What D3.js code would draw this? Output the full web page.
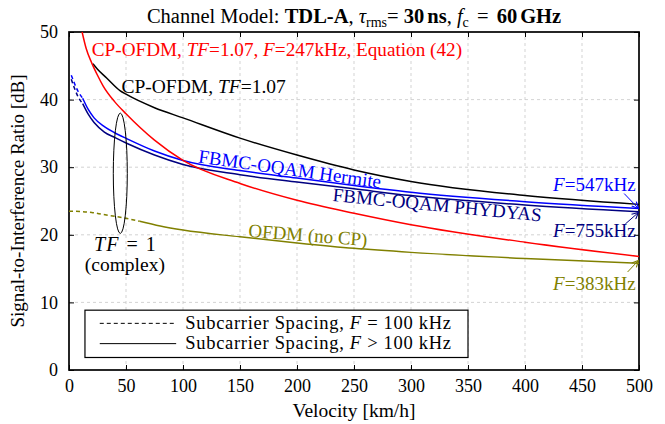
<!DOCTYPE html>
<html><head><meta charset="utf-8">
<script src="https://cdn.jsdelivr.net/npm/d3@7"></script>
<style>
body{margin:0;background:#fff}
svg{display:block}
svg text{font-family:'Liberation Serif','DejaVu Serif','Times New Roman',serif !important;}
</style>
</head><body>
<svg id="c" width="665" height="424" font-family="Liberation Serif, DejaVu Serif, serif"></svg>
<script>
// ---------- data ----------
const xTicks = [0,50,100,150,200,250,300,350,400,450,500];
const yTicks = [0,10,20,30,40,50];

// CP-OFDM, TF=1.07, F=247kHz, Equation (42)  (red)
const redV = [11.5,15,20,25,30,40,50,75,100,150,200,250,300,400,500];
const redS = [50,47.6,45.4,43.6,42.0,39.7,37.9,34.0,31.0,27.6,25.1,23.2,21.5,18.9,16.8];
// CP-OFDM, TF=1.07 (black)
const blkV = [21,25,33,45,50,75,100,150,200,250,300,400,500];
const blkS = [45.3,44.5,43.2,41.3,40.8,38.8,37.3,34.3,31.8,29.6,27.9,25.8,24.5];
// FBMC-OQAM Hermite (blue): dashed F=100kHz, solid F>100kHz
const herDashV = [2,5,8,12];
const herDashS = [43.6,42.3,41.2,40.2];
const herV = [12,17,22,31,40,51,75,100,150,200,250,300,400,500];
const herS = [40.2,38.5,37.3,36.0,35.1,34.2,32.4,31.0,29.5,28.4,27.3,26.3,24.9,23.9];
// FBMC-OQAM PHYDYAS (navy)
const phyDashV = [2,5,8,12];
const phyDashS = [43.0,41.6,40.4,39.4];
const phyV = [12,17,22,31,40,51,75,100,150,200,250,300,400,500];
const phyS = [39.4,37.8,36.6,35.2,34.4,33.5,31.8,30.4,28.9,27.8,26.8,25.8,24.4,23.4];
// OFDM (no CP) (olive)
const ofdmDashV = [0,10,20,30,45,62];
const ofdmDashS = [23.5,23.45,23.3,23.0,22.6,22.0];
const ofdmV = [62,80,100,150,200,250,300,400,500];
const ofdmS = [22.0,21.3,20.7,19.7,18.8,18.0,17.4,16.5,15.8];

const RED="#ff0000", BLK="#000000", BLU="#0000ff", NAV="#000080", OLV="#808000";
const FONT="Liberation Serif, DejaVu Serif, serif";

// ---------- layout ----------
const W=665,H=424, m={l:69,r:26,t:32,b:54};
const svg=d3.select("#c");
const x=d3.scaleLinear().domain([0,500]).range([m.l,W-m.r]);
const y=d3.scaleLinear().domain([0,50]).range([H-m.b,m.t]);

// grid
const g=svg.append("g");
g.selectAll(".gx").data(xTicks.slice(1,-1)).enter().append("line")
 .attr("x1",d=>x(d)).attr("x2",d=>x(d)).attr("y1",y(0)).attr("y2",y(50))
 .attr("stroke","#c8c8c8").attr("stroke-width",0.8).attr("stroke-dasharray","3,3");
g.selectAll(".gy").data(yTicks.slice(1,-1)).enter().append("line")
 .attr("y1",d=>y(d)).attr("y2",d=>y(d)).attr("x1",x(0)).attr("x2",x(500))
 .attr("stroke","#c8c8c8").attr("stroke-width",0.8).attr("stroke-dasharray","3,3");

// axes
const fs=18;
const ax=svg.append("g").attr("transform",`translate(0,${y(0)})`)
 .call(d3.axisBottom(x).tickValues(xTicks).tickSize(-5).tickPadding(9).tickFormat(d3.format("d")));
const ay=svg.append("g").attr("transform",`translate(${x(0)},0)`)
 .call(d3.axisLeft(y).tickValues(yTicks).tickSize(-5).tickPadding(11).tickFormat(d3.format("d")));
const at=svg.append("g").attr("transform",`translate(0,${y(50)})`)
 .call(d3.axisTop(x).tickValues(xTicks).tickSize(-5).tickFormat(""));
const ar=svg.append("g").attr("transform",`translate(${x(500)},0)`)
 .call(d3.axisRight(y).tickValues(yTicks).tickSize(-5).tickFormat(""));
[ax,ay,at,ar].forEach(a=>{
  a.attr("font-family",FONT).attr("font-size",fs);
  a.select(".domain").remove();
  a.selectAll("line").attr("stroke","#000").attr("stroke-width",1);
  a.selectAll("text").attr("font-family",FONT).attr("font-size",fs).attr("fill","#000");
});
// box
svg.append("rect").attr("x",x(0)).attr("y",y(50)).attr("width",x(500)-x(0)).attr("height",y(0)-y(50))
 .attr("fill","none").attr("stroke","#000").attr("stroke-width",1.7);

// clip
svg.append("clipPath").attr("id","clip").append("rect")
 .attr("x",x(0)).attr("y",y(50)).attr("width",x(500)-x(0)).attr("height",y(0)-y(50));
const pg=svg.append("g").attr("clip-path","url(#clip)");
const line=d3.line().x(d=>x(d[0])).y(d=>y(d[1])).curve(d3.curveMonotoneX);
function draw(vs,ss,col,dash){
  pg.append("path").datum(vs.map((v,i)=>[v,ss[i]])).attr("d",line)
   .attr("fill","none").attr("stroke",col).attr("stroke-width",1.5)
   .attr("stroke-dasharray",dash?"4,3":null);
}
draw(ofdmDashV,ofdmDashS,OLV,true);
draw(ofdmV,ofdmS,OLV,false);
draw(blkV,blkS,BLK,false);
draw(herDashV,herDashS,BLU,true);
draw(phyDashV,phyDashS,NAV,true);
draw(phyV,phyS,NAV,false);
draw(herV,herS,BLU,false);
draw(redV,redS,RED,false);

// rich text helper
function rich(parent,segs,attrs){
  const t=parent.append("text").attr("font-family",FONT);
  Object.entries(attrs).forEach(([k,v])=>t.attr(k,v));
  segs.forEach(s=>{
    const ts=t.append("tspan").text(s.t);
    if(s.i) ts.attr("font-style","italic");
    if(s.b) ts.attr("font-weight","bold");
    if(s.sub){ts.attr("font-size",s.sub).attr("dy",s.dy||4);}
    if(s.up){ts.attr("dy",-s.up);}
    if(s.dx) ts.attr("dx",s.dx);
  });
  return t;
}
function plain(parent,txt,attrs){
  const t=parent.append("text").attr("font-family",FONT).text(txt);
  Object.entries(attrs).forEach(([k,v])=>t.attr(k,v));
  return t;
}

// title
rich(svg,[{t:"Channel Model: "},{t:"TDL-A",b:1},{t:", "},{t:"τ",i:1},{t:"rms",sub:14,dy:4},{t:"= ",up:4},{t:"30",b:1},{t:"ns",b:1,dx:3},{t:",  "},{t:"f",i:1},{t:"c",sub:14,dy:4},{t:" = ",up:4,dx:3},{t:"60",b:1,dx:3},{t:"GHz",b:1,dx:3}],
 {x:(x(0)+x(500))/2,y:y(50)-9,"text-anchor":"middle","font-size":20.5,fill:"#000"});

// axis labels
plain(svg,"Velocity [km/h]",{x:(x(0)+x(500))/2,y:H-7,"text-anchor":"middle","font-size":19.5});
plain(svg,"Signal-to-Interference Ratio [dB]",{transform:`translate(24,${(y(0)+y(50))/2}) rotate(-90)`,"text-anchor":"middle","font-size":19});

// curve labels
rich(svg,[{t:"CP-OFDM, "},{t:"TF",i:1},{t:"=1.07, "},{t:"F",i:1},{t:"=247kHz, Equation (42)"}],
 {x:x(20),y:y(46.5),"font-size":19.2,fill:RED});
rich(svg,[{t:"CP-OFDM, "},{t:"TF",i:1},{t:"=1.07"}],
 {x:x(46),y:y(41),"font-size":19.5,fill:BLK});
plain(svg,"FBMC-OQAM Hermite",{transform:`translate(${x(113)},${y(30.7)}) rotate(8)`,"font-size":19,fill:BLU});
plain(svg,"FBMC-OQAM PHYDYAS",{transform:`translate(${x(231)},${y(25)}) rotate(5.6)`,"font-size":19,fill:NAV});
plain(svg,"OFDM (no CP)",{transform:`translate(${x(157)},${y(19.7)}) rotate(4.5)`,"font-size":19,fill:OLV});

// TF=1 ellipse + label
svg.append("ellipse").attr("cx",x(45)).attr("cy",y(29.1)).attr("rx",7).attr("ry",y(20.2)-y(29.1))
 .attr("fill","none").attr("stroke","#000").attr("stroke-width",1);
rich(svg,[{t:"T",i:1},{t:"F",i:1,dx:1},{t:" = ",dx:3},{t:"1",dx:3}],{x:x(49),y:y(17.6),"text-anchor":"middle","font-size":20,fill:"#000"});
plain(svg,"(complex)",{x:x(49),y:y(14.7),"text-anchor":"middle","font-size":19.5});

// arrows / F annotations
const defs=svg.append("defs");
function marker(id,col){
  defs.append("marker").attr("id",id).attr("viewBox","0 0 10 10").attr("refX",9).attr("refY",5)
   .attr("markerWidth",8).attr("markerHeight",8).attr("orient","auto").attr("markerUnits","userSpaceOnUse")
   .append("path").attr("d","M1,1 L9,5 L1,9").attr("fill","none").attr("stroke",col).attr("stroke-width",1.4);
}
marker("aB",BLU);marker("aN",NAV);marker("aO",OLV);
function ann(txt,col,mk,tx,ty,ax1,ay1,ax2,ay2){
  rich(svg,[{t:"F",i:1},{t:"="+txt}],{x:x(tx),y:y(ty),"text-anchor":"end","font-size":19,fill:col});
  svg.append("line").attr("x1",x(ax1)).attr("y1",y(ay1)).attr("x2",x(ax2)).attr("y2",y(ay2))
   .attr("stroke",col).attr("stroke-width",1).attr("marker-end",`url(#${mk})`);
}
ann("547kHz",BLU,"aB",497,26.5,487,26.1,499.5,23.9);
ann("755kHz",NAV,"aN",497,19.7,488,21.6,499.5,23.3);
ann("383kHz",OLV,"aO",497,11.8,490,14.5,499.5,16.2);

// legend
const lg=svg.append("g");
lg.append("rect").attr("x",x(14)).attr("y",y(8.85)).attr("width",x(350)-x(14)).attr("height",y(1.85)-y(8.85))
 .attr("fill","#fff").attr("stroke","#000").attr("stroke-width",1.2);
lg.append("line").attr("x1",x(27)).attr("x2",x(94)).attr("y1",y(6.9)).attr("y2",y(6.9))
 .attr("stroke","#000").attr("stroke-width",1).attr("stroke-dasharray","4,3");
lg.append("line").attr("x1",x(27)).attr("x2",x(94)).attr("y1",y(3.9)).attr("y2",y(3.9))
 .attr("stroke","#000").attr("stroke-width",1);
rich(lg,[{t:"Subcarrier Spacing, "},{t:"F",i:1},{t:" = 100 kHz"}],{x:x(102),y:y(6.9)+5.5,"font-size":18.5,"letter-spacing":0.7,fill:"#000"});
rich(lg,[{t:"Subcarrier Spacing, "},{t:"F",i:1},{t:" > 100 kHz"}],{x:x(102),y:y(3.9)+5.5,"font-size":18.5,"letter-spacing":0.7,fill:"#000"});
</script>
</body></html>
